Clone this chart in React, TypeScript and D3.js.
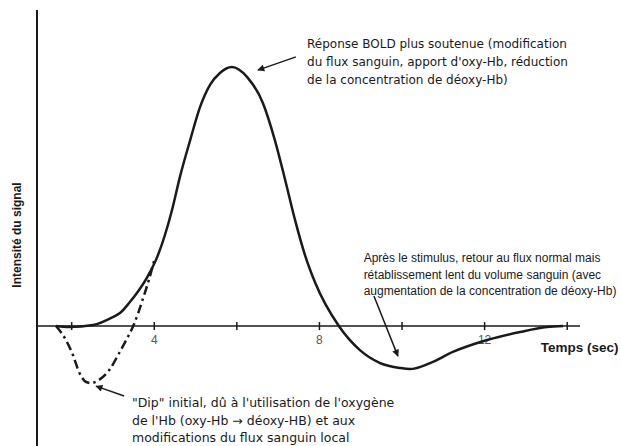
import { useEffect, useRef } from 'react';
import * as d3 from 'd3';

// BOLD response (signal intensity vs time in seconds, peak = 100)
const boldT = [1.62, 1.94, 2.52, 3.0, 3.17, 3.39, 3.83, 4.07, 4.43, 4.62, 4.87, 5.11, 5.35, 5.59, 5.88, 6.25, 6.63, 6.92, 7.17, 7.41, 7.65, 7.9, 8.47, 8.98, 9.47, 9.95, 10.19, 10.68, 11.23, 12.06, 12.86, 13.51, 13.9];
const boldV = [0, -0.4, 0.4, 3.5, 5.0, 8.9, 18.9, 26.6, 44.8, 57.5, 71.8, 84.6, 93.1, 97.7, 100, 96.1, 86.1, 71.8, 56.4, 40.9, 27.4, 16.6, 0, -9.3, -14.3, -16.2, -16.6, -14.3, -10.0, -5.4, -2.3, -0.4, 0];

// initial dip
const dipT = [1.62, 1.86, 2.03, 2.18, 2.35, 2.47, 2.66, 2.91, 3.15, 3.32, 3.49, 3.61, 3.73, 3.87, 4.02];
const dipV = [0, -5.4, -11.2, -17.8, -21.6, -22.0, -20.8, -17.0, -10.4, -5.4, 0, 5.0, 10.8, 17.8, 26.6];

const tickValues = [2, 4, 6, 8, 10, 12, 14];
const tickLabels = ['', '4', '', '8', '', '12', ''];

const noteBold = [
  'Réponse BOLD plus soutenue (modification',
  "du flux sanguin, apport d'oxy-Hb, réduction",
  'de la concentration de déoxy-Hb)',
];
const noteAfter = [
  'Après le stimulus, retour au flux normal mais',
  'rétablissement lent du volume sanguin (avec',
  'augmentation de la concentration de déoxy-Hb)',
];
const noteDip = [
  "\"Dip\" initial, dû à l'utilisation de l'oxygène",
  "de l'Hb (oxy-Hb → déoxy-HB) et aux",
  'modifications du flux sanguin local',
];

const width = 621;
const height = 446;

export default function App() {
  const svgRef = useRef<SVGSVGElement>(null);

  useEffect(() => {
    if (!svgRef.current) return;
    const root = d3.select(svgRef.current);
    root.selectAll('*').remove();
    root.attr('width', width).attr('height', height);

    const x = d3.scaleLinear().domain([1.16, 14.31]).range([37, 580]);
    const y = d3.scaleLinear().domain([-46.3, 122]).range([446, 10]);
    const font = '"Liberation Sans", Arial, sans-serif';
    const wide = '"DejaVu Sans", Verdana, sans-serif';
    const ink = '#1a1a1a';

    root
      .append('defs')
      .append('marker')
      .attr('id', 'head')
      .attr('viewBox', '0 0 10 10')
      .attr('refX', 9)
      .attr('refY', 5)
      .attr('markerWidth', 9)
      .attr('markerHeight', 7)
      .attr('markerUnits', 'userSpaceOnUse')
      .attr('orient', 'auto')
      .append('path')
      .attr('d', 'M0,0 L10,5 L0,10 z')
      .attr('fill', ink);

    // axes
    root
      .append('line')
      .attr('x1', x(1.16))
      .attr('x2', x(1.16))
      .attr('y1', y(122))
      .attr('y2', y(-46.3))
      .attr('stroke', ink)
      .attr('stroke-width', 2);
    root
      .append('line')
      .attr('x1', x(1.16))
      .attr('x2', x(14.31))
      .attr('y1', y(0))
      .attr('y2', y(0))
      .attr('stroke', ink)
      .attr('stroke-width', 1.5);

    const ticks = root.append('g');
    ticks
      .selectAll('line')
      .data(tickValues)
      .enter()
      .append('line')
      .attr('x1', (d) => x(d))
      .attr('x2', (d) => x(d))
      .attr('y1', y(0) - 4)
      .attr('y2', y(0) + 4)
      .attr('stroke', ink)
      .attr('stroke-width', 1.5);
    ticks
      .selectAll('text')
      .data(tickValues)
      .enter()
      .append('text')
      .attr('x', (d) => x(d))
      .attr('y', y(0) + 18)
      .attr('text-anchor', 'middle')
      .style('font-family', font)
      .style('font-size', '12px')
      .style('fill', '#555')
      .text((_, i) => tickLabels[i]);

    root
      .append('text')
      .attr('transform', `translate(21, 235) rotate(-90)`)
      .attr('text-anchor', 'middle')
      .style('font-family', font)
      .style('font-size', '12px')
      .style('font-weight', 'bold')
      .style('fill', ink)
      .text('Intensité du signal');

    root
      .append('text')
      .attr('x', x(13.36))
      .attr('y', y(-8.5) + 4)
      .style('font-family', font)
      .style('font-size', '13.5px')
      .style('font-weight', 'bold')
      .style('fill', ink)
      .text('Temps (sec)');

    // curves
    const line = d3
      .line<number>()
      .x((d) => x(d))
      .curve(d3.curveMonotoneX);

    root
      .append('path')
      .attr('d', line.y((_, i) => y(dipV[i]))(dipT))
      .attr('fill', 'none')
      .attr('stroke', ink)
      .attr('stroke-width', 2.5)
      .attr('stroke-dasharray', '9,4,2.5,4');

    root
      .append('path')
      .attr('d', line.y((_, i) => y(boldV[i]))(boldT))
      .attr('fill', 'none')
      .attr('stroke', ink)
      .attr('stroke-width', 2.5);

    // annotations
    const arrows = [
      [7.43, 103.9, 6.51, 98.8],
      [9.32, 11.6, 9.9, -11.6],
      [3.27, -27.0, 2.59, -23.2],
    ];
    root
      .selectAll('line.arrow')
      .data(arrows)
      .enter()
      .append('line')
      .attr('class', 'arrow')
      .attr('x1', (d) => x(d[0]))
      .attr('y1', (d) => y(d[1]))
      .attr('x2', (d) => x(d[2]))
      .attr('y2', (d) => y(d[3]))
      .attr('stroke', ink)
      .attr('stroke-width', 1.5)
      .attr('marker-end', 'url(#head)');

    const notes: [string[], number, number, number, string, number][] = [
      [noteBold, 7.7, 107.3, 18, wide, 12],
      [noteAfter, 9.07, 24.7, 16.5, font, 12],
      [noteDip, 3.46, -31.3, 17.5, wide, 12.5],
    ];
    notes.forEach(([lines, tx, tv, lh, family, size]) => {
      root
        .append('text')
        .attr('x', x(tx))
        .attr('y', y(tv))
        .style('font-family', family)
        .style('font-size', `${size}px`)
        .style('fill', ink)
        .selectAll('tspan')
        .data(lines)
        .enter()
        .append('tspan')
        .attr('x', x(tx))
        .attr('dy', (_, i) => (i === 0 ? 0 : lh))
        .text((d) => d);
    });
  }, []);

  return <svg ref={svgRef} style={{ position: 'absolute', left: 0, top: 0 }} />;
}
